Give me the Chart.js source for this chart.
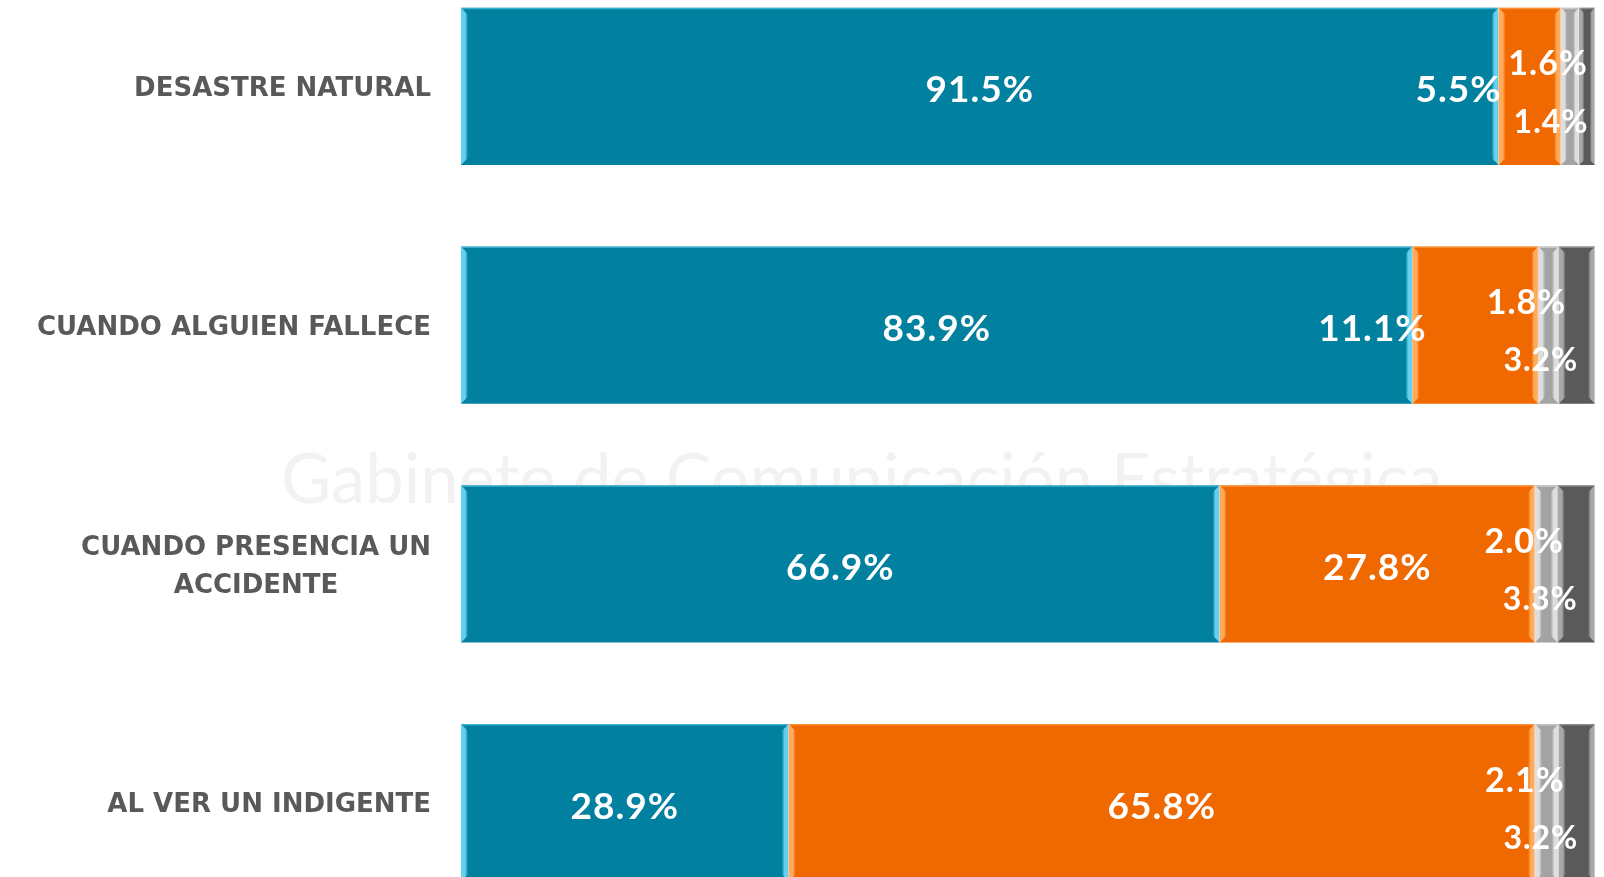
<!DOCTYPE html>
<html>
<head>
<meta charset="utf-8">
<script src="https://cdn.jsdelivr.net/npm/chart.js@4.4.1/dist/chart.umd.min.js"></script>
<style>
  html, body { margin: 0; padding: 0; background: #ffffff; overflow: hidden; }
  #wrap { position: absolute; left: 0; top: -33px; width: 1604px; height: 955px; }
</style>
</head>
<body>
<div id="wrap"><canvas id="situacionesChart"></canvas></div>
<script>
// categorias (eje vertical)
var categorias = [
    ["DESASTRE NATURAL"],
    ["CUANDO ALGUIEN FALLECE"],
    ["CUANDO PRESENCIA UN", "ACCIDENTE"],
    ["AL VER UN INDIGENTE"]
];

// valores por serie (%)
var serieAzul = [91.5, 83.9, 66.9, 28.9];
var serieNaranja = [5.5, 11.1, 27.8, 65.8];
var serieGris = [1.6, 1.8, 2.0, 2.1];
var serieGrisOscuro = [1.4, 3.2, 3.3, 3.2];

var colores = ["#02809f", "#f06800", "#a3a3a3", "#5a5a5a"];
var coloresBrillo = ["#62d0ee", "#ffab5a", "#dedede", "#a8a8a8"];

var marcaAgua = {
    id: "marcaAgua",
    beforeDatasetsDraw: function(chart) {
        var ctx = chart.ctx;
        ctx.save();
        var texto = "Gabinete de Comunicación Estratégica";
        ctx.font = "64px Lato";
        var w = ctx.measureText(texto).width;
        var size = 64 * 1162 / w;
        ctx.font = size + "px Lato";
        ctx.fillStyle = "#f2f2f2";
        ctx.textBaseline = "alphabetic";
        ctx.fillText(texto, 281, 33 + 503);
        ctx.restore();
    }
};

var bisel = {
    id: "bisel",
    afterDatasetsDraw: function(chart) {
        var ctx = chart.ctx;
        ctx.save();
        chart.data.datasets.forEach(function(ds, di) {
            var meta = chart.getDatasetMeta(di);
            meta.data.forEach(function(bar) {
                var p = bar.getProps(["x", "y", "base", "height"], true);
                var l = Math.min(p.x, p.base), r = Math.max(p.x, p.base);
                var t = p.y - p.height / 2, b = p.y + p.height / 2;
                var e = Math.min(7, (r - l) / 3);
                // borde izquierdo
                var g = ctx.createLinearGradient(l, 0, l + e, 0);
                g.addColorStop(0, coloresBrillo[di]);
                g.addColorStop(0.6, coloresBrillo[di]);
                g.addColorStop(1, colores[di]);
                ctx.fillStyle = g;
                ctx.beginPath();
                ctx.moveTo(l, t); ctx.lineTo(l + e, t + e); ctx.lineTo(l + e, b - e); ctx.lineTo(l, b);
                ctx.closePath(); ctx.fill();
                // borde derecho
                g = ctx.createLinearGradient(r - e, 0, r, 0);
                g.addColorStop(0, colores[di]);
                g.addColorStop(0.4, coloresBrillo[di]);
                g.addColorStop(1, coloresBrillo[di]);
                ctx.fillStyle = g;
                ctx.beginPath();
                ctx.moveTo(r, t); ctx.lineTo(r - e, t + e); ctx.lineTo(r - e, b - e); ctx.lineTo(r, b);
                ctx.closePath(); ctx.fill();
                // linea superior
                ctx.strokeStyle = coloresBrillo[di];
                ctx.globalAlpha = 0.6;
                ctx.lineWidth = 1.5;
                ctx.beginPath(); ctx.moveTo(l, t + 0.75); ctx.lineTo(r, t + 0.75); ctx.stroke();
                ctx.globalAlpha = 1;
                // separacion
                ctx.strokeStyle = "rgba(255,255,255,0.7)";
                ctx.lineWidth = 1;
                ctx.beginPath(); ctx.moveTo(r, t); ctx.lineTo(r, b); ctx.stroke();
            });
        });
        ctx.restore();
    }
};

var etiquetas = {
    id: "etiquetas",
    afterDatasetsDraw: function(chart) {
        var ctx = chart.ctx;
        var yScale = chart.scales.y;
        ctx.save();
        // nombres de categoria
        ctx.font = "bold 26px 'DejaVu Sans'";
        ctx.fillStyle = "#595959";
        ctx.textBaseline = "middle";
        ctx.textAlign = "center";
        categorias.forEach(function(lineas, i) {
            var cy = yScale.getPixelForValue(i) + 3;
            var ancho = 0;
            lineas.forEach(function(s) { ancho = Math.max(ancho, ctx.measureText(s).width); });
            var cx = 431 - ancho / 2;
            var alto = 38;
            lineas.forEach(function(s, k) {
                ctx.fillText(s, cx, cy + (k - (lineas.length - 1) / 2) * alto);
            });
        });
        if ("letterSpacing" in ctx) ctx.letterSpacing = "1px";
        // valores
        ctx.fillStyle = "#ffffff";
        chart.data.datasets.forEach(function(ds, di) {
            var meta = chart.getDatasetMeta(di);
            meta.data.forEach(function(bar, i) {
                var p = bar.getProps(["x", "y", "base"], true);
                var v = ds.data[i];
                var txt = v.toFixed(1) + "%";
                var centro = (p.x + p.base) / 2;
                var x = centro, y = p.y + 4;
                ctx.font = "bold 37px Lato";
                if (di === 1 && v < 20) {
                    x = p.base - 40;
                } else if (di === 2) {
                    ctx.font = "bold 34px Lato";
                    x = centro - 22;
                    y = p.y - 22;
                } else if (di === 3) {
                    ctx.font = "bold 32px Lato";
                    x = centro - 36;
                    y = p.y + 36;
                }
                ctx.fillText(txt, x, y);
            });
        });
        ctx.restore();
    }
};

var ctxSituaciones = document.getElementById("situacionesChart");

var situacionesChart = new Chart(ctxSituaciones, {
    type: "bar",
    data: {
        labels: categorias,
        datasets: [
            { label: "Serie 1", data: serieAzul, backgroundColor: colores[0] },
            { label: "Serie 2", data: serieNaranja, backgroundColor: colores[1] },
            { label: "Serie 3", data: serieGris, backgroundColor: colores[2] },
            { label: "Serie 4", data: serieGrisOscuro, backgroundColor: colores[3] }
        ]
    },
    options: {
        indexAxis: "y",
        responsive: true,
        maintainAspectRatio: false,
        animation: false,
        datasets: {
            bar: {
                categoryPercentage: 1,
                barPercentage: 0.658,
                borderWidth: 0
            }
        },
        layout: {
            padding: { left: 461, right: 9, top: 0, bottom: 0 }
        },
        scales: {
            x: { stacked: true, min: 0, max: 100, display: false },
            y: { stacked: true, display: false }
        },
        plugins: {
            legend: { display: false },
            tooltip: { enabled: false }
        }
    },
    plugins: [marcaAgua, bisel, etiquetas]
});
</script>
</body>
</html>
